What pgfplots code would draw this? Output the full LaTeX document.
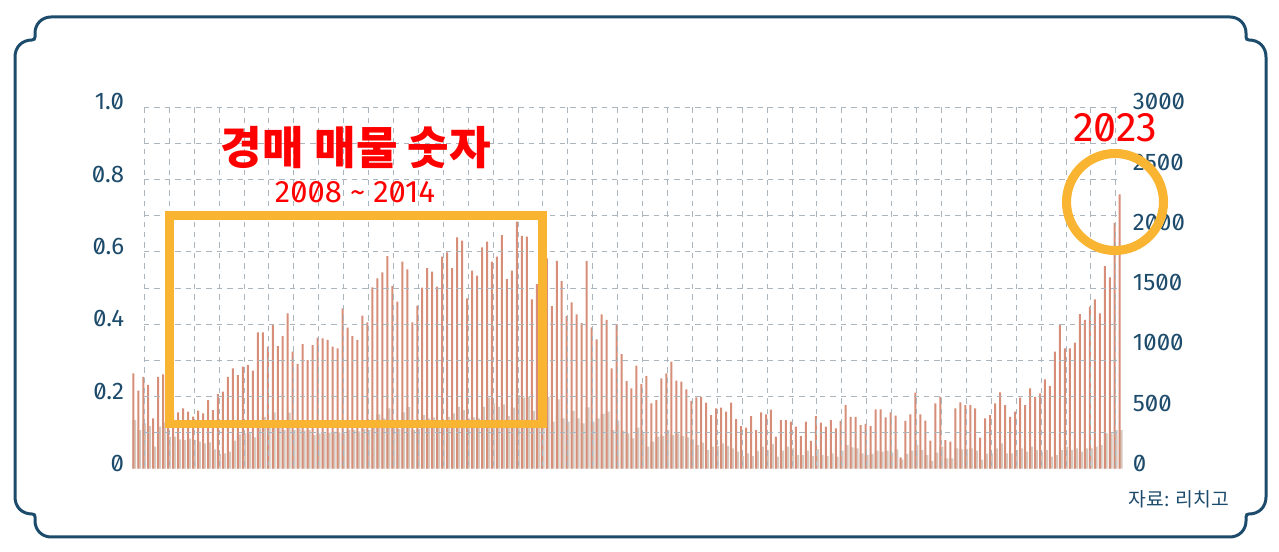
\documentclass[border=0pt]{standalone}
\usepackage{fontspec}
\usepackage{pgfplots}
\usepackage{pgfplotstable}
\pgfplotsset{compat=1.18}
\setmainfont{Fira Sans}
\newfontfamily\tickfont[Numbers={Lining,SlashedZero}]{Fira Sans}
\newfontfamily\kr{Noto Sans CJK KR}
\definecolor{navy}{RGB}{29,75,107}
\definecolor{redbar}{RGB}{214,142,120}
\definecolor{greybar}{RGB}{214,202,192}
\definecolor{gridc}{RGB}{170,181,190}
\definecolor{orng}{RGB}{249,181,50}
\definecolor{txtred}{RGB}{255,0,0}

\pgfplotstableread{
i red grey
0 792 404
1 647 321
2 763 376
3 695 354
4 418 183
5 763 349
6 783 382
7 600 266
8 480 266
9 467 243
10 501 238
11 473 249
12 432 238
13 481 224
14 459 210
15 570 218
16 487 160
17 620 122
18 639 127
19 763 141
20 833 232
21 777 285
22 846 293
23 860 293
24 813 260
25 1131 335
26 1131 431
27 1012 404
28 1192 467
29 1018 390
30 1101 321
31 1289 465
32 971 321
33 869 335
34 1034 315
35 902 321
36 1026 279
37 1087 293
38 1081 293
39 1068 299
40 1012 307
41 998 301
42 1330 293
43 1170 320
44 1101 320
45 1068 310
46 1270 330
47 1214 320
48 1505 340
49 1579 451
50 1629 418
51 1765 501
52 1516 340
53 1386 330
54 1718 467
55 1654 514
56 1214 320
57 1353 330
58 1502 445
59 1665 418
60 1635 426
61 1510 340
62 1759 350
63 1795 431
64 1665 459
65 1920 514
66 1892 487
67 1413 418
68 1643 426
69 1602 418
70 1837 514
71 1884 589
72 1718 542
73 1759 514
74 1939 534
75 1574 437
76 1643 506
77 2050 611
78 1933 589
79 1925 597
80 1405 479
81 1532 562
82 1700 550
83 1745 597
84 1350 390
85 1725 575
86 1557 418
87 1267 390
88 1380 479
89 1281 418
90 1211 376
91 1723 509
92 1173 390
93 1073 418
94 1281 454
95 1234 473
96 833 321
97 1200 398
98 951 315
99 727 293
100 667 252
101 855 340
102 703 293
103 769 183
104 542 224
105 570 266
106 750 271
107 791 321
108 888 279
109 730 293
110 722 271
111 658 260
112 562 243
113 592 196
114 597 216
115 548 155
116 445 183
117 501 188
118 506 210
119 473 188
120 548 169
121 412 141
122 354 105
123 340 127
124 437 105
125 321 147
126 467 183
127 451 155
128 490 205
129 266 100
130 404 149
131 404 183
132 390 169
133 349 113
134 271 113
135 390 149
136 230 105
137 437 160
138 382 113
139 349 105
140 404 127
141 335 100
142 396 149
143 528 196
144 431 177
145 431 169
146 362 127
147 371 113
148 354 122
149 492 149
150 492 141
151 426 149
152 467 135
153 440 160
154 94 77
155 396 122
156 451 149
157 631 196
158 451 155
159 398 113
160 232 64
161 542 133
162 597 183
163 238 86
164 224 86
165 501 169
166 550 160
167 528 165
168 528 169
169 501 150
170 257 75
171 418 125
172 445 127
173 542 169
174 633 210
175 528 127
176 431 127
177 473 155
178 589 169
179 528 141
180 667 183
181 597 155
182 625 141
183 741 155
184 686 100
185 971 113
186 1192 155
187 999 183
188 999 155
189 1046 169
190 1283 141
191 1234 169
192 1344 169
193 1405 183
194 1289 196
195 1682 293
196 1588 293
197 2041 321
198 2276 321
}\data

\begin{document}
\begin{tikzpicture}
\path[use as bounding box] (0,0) rectangle (959.25pt,414pt);

% left axis (ratio scale)
\begin{axis}[
  at={(96.975pt,62.475pt)}, anchor=south west,
  scale only axis, width=746.55pt, height=271.125pt,
  xmin=-0.8, xmax=199, ymin=0, ymax=1,
  axis y line*=left, axis x line*=bottom,
  axis line style={draw=none}, major tick length=0pt,
  xtick=\empty,
  ytick={0,0.2,0.4,0.6,0.8,1},
  yticklabels={0,0.2,0.4,0.6,0.8,1.0},
  yticklabel style={font=\tickfont\fontsize{18}{18}\selectfont, text=navy,
     anchor=east, inner sep=0pt, xshift=-3.75pt, yshift=4pt},
]
\end{axis}

% right axis (counts) with bars
\begin{axis}[
  at={(96.975pt,62.475pt)}, anchor=south west,
  scale only axis, width=746.55pt, height=271.125pt,
  xmin=-0.8, xmax=199, ymin=0, ymax=3000,
  axis y line*=right, axis x line*=bottom,
  axis line style={draw=none}, major tick length=0pt,
  xtick=\empty,
  ytick={0,500,1000,1500,2000,2500,3000},
  yticklabels={0,500,1000,1500,2000,2500,3000},
  yticklabel style={font=\tickfont\fontsize{18}{18}\selectfont, text=navy,
     anchor=west, inner sep=0pt, xshift=6pt, yshift=4pt},
]
\addplot[ybar, bar width=2.9pt, bar shift=0.75pt, fill=greybar, draw=none] table[x=i,y=grey]{\data};
\addplot[ybar, bar width=1.5pt, bar shift=0pt, fill=redbar, draw=none] table[x=i,y=red]{\data};
\end{axis}

\begin{scope}[shift={(0,414pt)}, x=0.75pt, y=-0.75pt]
  % grid
  \foreach \k in {0,...,39}{
    \draw[gridc, line width=0.6pt, dash pattern=on 4pt off 3.8pt] ({144.3+24.91*\k},107.2) -- ({144.3+24.91*\k},468.7);
  }
  \foreach \j in {0,...,9}{
    \draw[gridc, line width=0.6pt, dash pattern=on 4pt off 3.8pt] (144,{107.2+36.15*\j}) -- (1121,{107.2+36.15*\j});
  }
  % frame
  \draw[navy, line width=2.25pt]
    (15,57) .. controls (15,47) and (22,40) .. (32,40)
    .. controls (34,40) and (35,39) .. (35,37) -- (35,33)
    .. controls (35,24) and (42,17) .. (51,17) -- (1230,17)
    .. controls (1239,17) and (1246,24) .. (1246,33) -- (1246,37)
    .. controls (1246,39) and (1247,40) .. (1249,40)
    .. controls (1259,40) and (1266,47) .. (1266,57) -- (1266,497)
    .. controls (1266,507) and (1259,514) .. (1249,514)
    .. controls (1247,514) and (1246,515) .. (1246,517) -- (1246,521)
    .. controls (1246,530) and (1239,537) .. (1230,537) -- (51,537)
    .. controls (42,537) and (35,530) .. (35,521) -- (35,517)
    .. controls (35,515) and (34,514) .. (32,514)
    .. controls (22,514) and (15,507) .. (15,497) -- cycle;
  % annotations
  \draw[orng, line width=6.3pt] (169.3,215.7) rectangle (542.5,424);
  \draw[orng, line width=6.8pt] (1115,202) circle (48.5);
  \node[text=txtred, font=\kr\bfseries\fontsize{33.9}{34}\selectfont] at (356,148) {경매 매물 숫자};
  \node[text=txtred, font=\tickfont\fontsize{23.2}{23}\selectfont] at (355,192) {2008 \textasciitilde{} 2014};
  \node[text=txtred, inner sep=0pt, font=\tickfont\fontsize{31}{31}\selectfont] at (1115,128) {2023};
  \node[text=navy, font=\kr\fontsize{14.5}{14.5}\selectfont] at (1179,499) {자료: 리치고};
\end{scope}
\end{tikzpicture}
\end{document}
